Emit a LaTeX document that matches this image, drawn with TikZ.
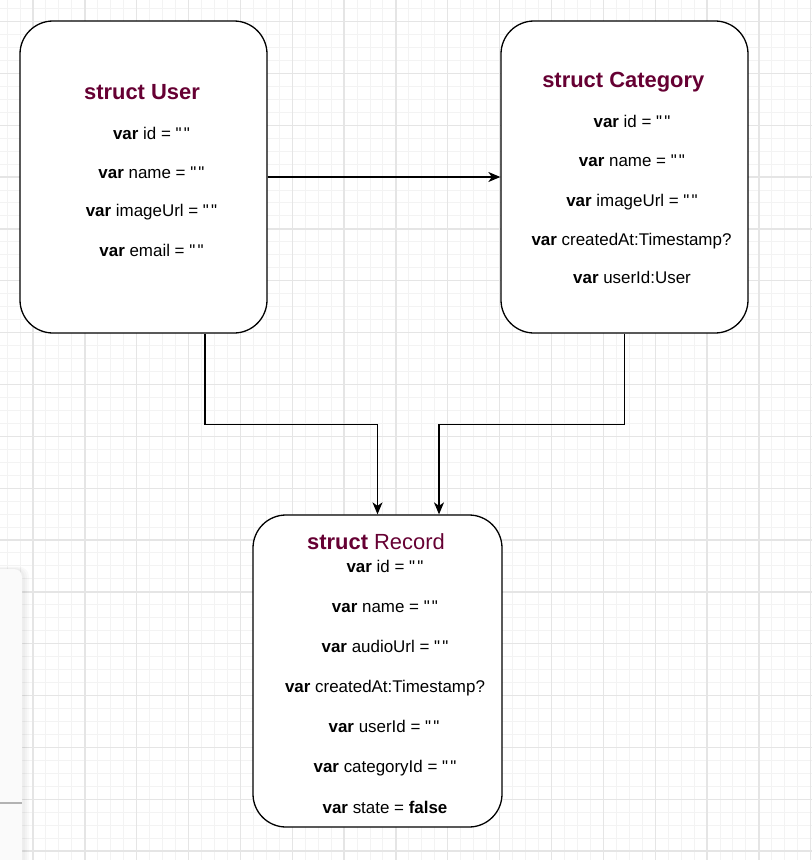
\documentclass[tikz,border=0pt]{standalone}
\usepackage{fontspec}
\setmainfont{Liberation Sans}[Ligatures=TeXOff]
\usetikzlibrary{arrows.meta}
\definecolor{titlecol}{HTML}{660033}
\definecolor{minorgrid}{HTML}{F3F3F3}
\definecolor{majorgrid}{HTML}{E5E5E5}
\definecolor{panelfill}{HTML}{FAFAFA}
\newcommand{\emptystr}{\symbol{34}\kern2.2bp\symbol{34}}
\begin{document}
\begin{tikzpicture}[x=1bp,y=-1bp,
  minorline/.style={draw=minorgrid, line width=1bp},
  majorline/.style={draw=majorgrid, line width=1.3bp},
  structbox/.style={draw=black, line width=1.3bp, fill=white, rounded corners=33bp,
    minimum width=247bp, minimum height=312bp, inner sep=0pt},
  titletext/.style={font=\fontsize{22}{26}\selectfont, text=titlecol, inner sep=0pt,
    text height=15.8bp, text depth=0pt},
  bodytext/.style={font=\fontsize{17}{20}\selectfont, inner sep=0pt,
    text height=12.2bp, text depth=0pt},
  conn/.style={draw=black, line width=1.3bp, -{Stealth[length=12bp,width=10bp,inset=3.5bp]}}]
\useasboundingbox (0,0) rectangle (812,860);
\clip (0,0) rectangle (812,860);
\fill[white] (0,0) rectangle (812,860);
% grid
\foreach \k in {-3,...,60} \draw[minorline] ({33+\k*12.9625},0) -- ({33+\k*12.9625},860);
\foreach \k in {-2,...,66} \draw[minorline] (0,{21.5+\k*12.9625}) -- (812,{21.5+\k*12.9625});
\foreach \k in {-1,...,15} \draw[majorline] ({33+\k*51.85},0) -- ({33+\k*51.85},860);
\foreach \k in {-1,...,17} \draw[majorline] (0,{21.5+\k*51.85}) -- (812,{21.5+\k*51.85});
% side panel
\foreach \d in {7,5,3} \fill[black,opacity=0.025,rounded corners=10bp] (-20,{569-\d/3}) rectangle ({22+\d},880);
\fill[panelfill, rounded corners=8bp] (-20,569) rectangle (22,880);
\draw[gray!60, line width=2bp] (0,803) -- (22,803);
% boxes
\node[structbox] (user) at (143.5,177) {};
\node[structbox] (category) at (624.5,177) {};
\node[structbox, minimum width=249bp] (record) at (377.5,671) {};
% user text
\node[titletext] (userT) at (142,91.7) {\textbf{struct User}};
\node[bodytext] (u1) at (151.5,133) {\textbf{var} id = \emptystr};
\node[bodytext] (u2) at (151.5,172.3) {\textbf{var} name = \emptystr};
\node[bodytext] (u3) at (151.5,210.5) {\textbf{var} imageUrl = \emptystr};
\node[bodytext] (u4) at (151.5,250) {\textbf{var} email = \emptystr};
% category text
\node[titletext] (catT) at (623.3,80) {\textbf{struct Category}};
\node[bodytext] (c1) at (632,121.7) {\textbf{var} id = \emptystr};
\node[bodytext] (c2) at (632,160.7) {\textbf{var} name = \emptystr};
\node[bodytext] (c3) at (632,200) {\textbf{var} imageUrl = \emptystr};
\node[bodytext] (c4) at (631.5,239.3) {\textbf{var} createdAt:Timestamp?};
\node[bodytext] (c5) at (632,277) {\textbf{var} userId:User};
% record text
\node[titletext] (recT) at (376,541.7) {\textbf{struct} Record};
\node[bodytext] (r1) at (385,566.7) {\textbf{var} id = \emptystr};
\node[bodytext] (r2) at (385,606.7) {\textbf{var} name = \emptystr};
\node[bodytext] (r3) at (385,646.7) {\textbf{var} audioUrl = \emptystr};
\node[bodytext] (r4) at (385,686.7) {\textbf{var} createdAt:Timestamp?};
\node[bodytext] (r5) at (384,726.7) {\textbf{var} userId = \emptystr};
\node[bodytext] (r6) at (385,766.7) {\textbf{var} categoryId = \emptystr};
\node[bodytext] (r7) at (385,807.7) {\textbf{var} state = \textbf{false}};
% connectors
\draw[conn] (user.east) -- (category.west);
\draw[conn] ([xshift=61.5bp]user.south) -- ++(0,91) -| (record.north);
\draw[conn] (category.south) -- ++(0,91) -| ([xshift=61.5bp]record.north);
\end{tikzpicture}
\end{document}
